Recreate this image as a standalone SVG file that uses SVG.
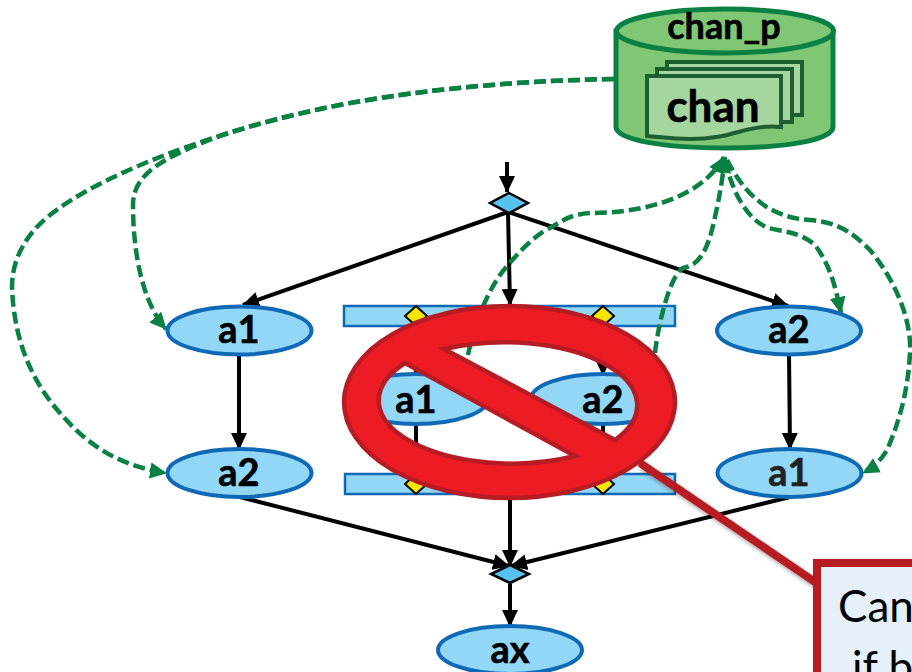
<svg xmlns="http://www.w3.org/2000/svg" width="912" height="672" viewBox="0 0 912 672">
<defs>
<marker id="ak" markerUnits="userSpaceOnUse" markerWidth="18" markerHeight="18" refX="16" refY="9" orient="auto"><path d="M0 1L17 9L0 17Z" fill="#000"/></marker>
<marker id="ag" markerUnits="userSpaceOnUse" markerWidth="18" markerHeight="18" refX="16" refY="9" orient="auto"><path d="M0 1L17 9L0 17Z" fill="#0b8043"/></marker>
<filter id="sh" x="-10%" y="-10%" width="125%" height="125%"><feDropShadow dx="2" dy="3" stdDeviation="2" flood-color="#000" flood-opacity="0.35"/></filter>
</defs>
<style>
text{font-family:"Lato","Liberation Sans",sans-serif;font-weight:700;text-anchor:middle;fill:#000;stroke:#000;stroke-width:.6}
.n{fill:#93d7f7;stroke:#0f69b4;stroke-width:4}
.l{font-size:38px}
.bar{fill:#93d7f7;stroke:#0f69b4;stroke-width:2.5}
.y{fill:#f7e600;stroke:#000;stroke-width:2}
.d{fill:#57c1ef;stroke:#000;stroke-width:2.5}
.c{fill:none;stroke:#000;stroke-width:4;marker-end:url(#ak)}
.c0{fill:none;stroke:#000;stroke-width:4}
.g{fill:none;stroke:#0b8043;stroke-width:4.5;stroke-dasharray:12 5;marker-end:url(#ag)}
.doc{fill:#a6d69f;stroke:#1b5e2f;stroke-width:4}
.r{font-weight:400;text-anchor:start;font-size:44px;stroke:none}
</style>
<g id="bar-top"><rect class="bar" x="344" y="306" width="331" height="20"/><path class="y" d="M416 306l11 10l-11 10l-11-10Z"/><path class="y" d="M603 306l11 10l-11 10l-11-10Z"/></g>
<g id="bar-bottom"><rect class="bar" x="345" y="474" width="330" height="20"/><path class="y" d="M416 474l11 10l-11 10l-11-10Z"/><path class="y" d="M603 474l11 10l-11 10l-11-10Z"/></g>
<g id="connectors">
<path class="c" d="M507 162V192"/>
<path class="c" d="M508 212L243 305"/>
<path class="c" d="M508 212L510 305"/>
<path class="c" d="M508 212L788 306"/>
<path class="c" d="M239 355V449"/>
<path class="c" d="M789 355L790 449"/>
<path class="c" d="M416 326V374"/>
<path class="c" d="M603 326V375"/>
<path class="c0" d="M416 424V474M603 424V474"/>
<path class="c" d="M240 497L509 566"/>
<path class="c" d="M790 497L511 566"/>
<path class="c" d="M510 494V566"/>
<path class="c" d="M510 584V626"/>
<path class="g" d="M614 79C500 81 400 92 320 109C210 133 100 175 50 215C25 235 12 260 12 287C14 345 35 385 60 413C85 442 115 465 166 473"/>
<path class="g" d="M614 79C500 81 400 92 320 109C260 122 215 135 175 155C145 170 133 185 133 205C133 245 140 300 166 329"/>
<path class="g" d="M468 355C475 320 490 285 508 265C525 245 540 232 552 227C565 218 575 214 590 213C640 213 700 200 724 157"/>
<path class="g" d="M655 353C658 325 670 275 683 268C700 265 708 250 715 217C720 195 723 175 725 157"/>
<path class="g" d="M725 160C732 190 745 218 768 228C785 232 800 232 815 245C830 265 835 285 841 313"/>
<path class="g" d="M727 160C745 195 770 218 810 220C835 222 850 230 870 250C895 280 912 320 910 353C908 390 900 420 887 450C880 462 872 468 863 473"/>
</g>
<g id="start"><path class="d" d="M509 193L528 203L509 213L490 203Z"/></g>
<g id="end"><path class="d" d="M510 565L529 574L510 583L491 574Z"/></g>
<g id="a1-left"><ellipse class="n" cx="239.500" cy="330.500" rx="72" ry="24"/><text class="l" x="239" y="343">a1</text></g>
<g id="a2-left"><ellipse class="n" cx="239.500" cy="473" rx="72" ry="24"/><text class="l" x="239" y="486">a2</text></g>
<g id="a2-right"><ellipse class="n" cx="789" cy="330.500" rx="72" ry="24"/><text class="l" x="789" y="343">a2</text></g>
<g id="a1-right"><ellipse class="n" cx="789.500" cy="473" rx="72" ry="24"/><text class="l" x="789" y="486" style="fill:#222;stroke:#222">a1</text></g>
<g id="a1-mid"><ellipse class="n" cx="416" cy="399" rx="72" ry="25"/><text class="l" x="416" y="413">a1</text></g>
<g id="a2-mid"><ellipse class="n" cx="603" cy="399" rx="72" ry="25"/><text class="l" x="603" y="413">a2</text></g>
<g id="ax"><ellipse class="n" cx="510" cy="650" rx="72" ry="24"/><text class="l" x="510" y="663">ax</text></g>
<g id="chan_p">
<path d="M616 31V127C616 140 665 148 725 148S833 140 833 127V31Z" fill="#7fc675" stroke="#0b8043" stroke-width="5"/>
<ellipse cx="725" cy="31" rx="108.500" ry="22" fill="#7fc675" stroke="#0b8043" stroke-width="5"/>
<text x="724" y="39" font-size="36">chan_p</text>
<rect class="doc" x="667" y="62" width="135" height="53"/>
<rect class="doc" x="657" y="69" width="135" height="53"/>
<path class="doc" d="M647 76H781V127C745 124 735 139 690 139C672 139 660 137 647 136Z"/>
<text x="713" y="122" font-size="44">chan</text>
</g>
<g id="callout">
<path d="M640 463L815 582" fill="none" stroke="#b71c24" stroke-width="8" filter="url(#sh)"/>
<rect x="817" y="563" width="110" height="120" fill="#e6f0fa" stroke="#b71c24" stroke-width="8" filter="url(#sh)"/>
<text class="r" x="838" y="622">Can</text>
<text class="r" x="852" y="683">if b</text>
</g>
<g id="no-sign">
<path fill="#ed1c24" stroke="#b71c24" stroke-width="4.500" fill-rule="evenodd" d="M344 402A165.500 96 0 1 0 675 402A165.500 96 0 1 0 344 402ZM444 349A133 63 0 0 1 615 440ZM575 456A133 63 0 0 1 405 363Z"/>
</g>
</svg>
